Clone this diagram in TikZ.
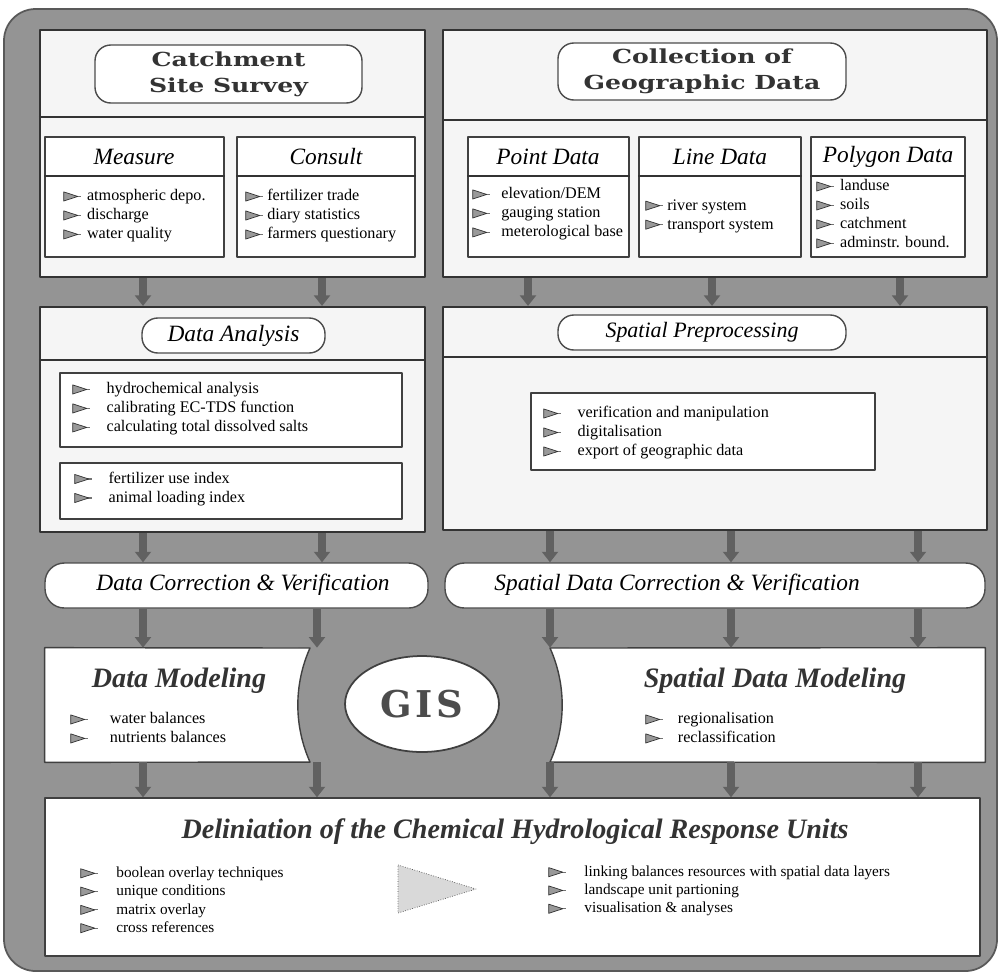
\documentclass[tikz,border=0pt]{standalone}
\usepackage{fontspec}
\usepackage{graphicx}
\setmainfont{Liberation Serif}
\newfontfamily\slabfont{DejaVu Serif}
\usetikzlibrary{fit,arrows.meta,shapes.geometric}

\newcommand{\wide}[1]{\scalebox{1.3}[1]{#1}}
\newcommand{\pointer}{\tikz[baseline=-0.6ex]{\draw[black!55, line width=0.6pt] (6pt,0pt) -- (10pt,0pt);
  \filldraw[fill=black!40, draw=black!80, line width=0.4pt] (0pt,2.6pt) -- (8pt,0pt) -- (0pt,-2.6pt) -- cycle;}}
\newcommand{\pitem}[1]{\pointer\hspace{#1}}

\tikzset{
  panel/.style={draw=black!80, line width=1.2pt, fill=black!4, inner sep=0pt},
  headbox/.style={draw=black!70, line width=0.8pt, fill=white, rounded corners=9pt, inner sep=0pt},
  subbox/.style={draw=black!75, line width=0.8pt, fill=white, inner sep=0pt},
  corrbox/.style={draw=black!70, line width=0.8pt, fill=white, rounded corners=11pt, inner sep=0pt},
  divider/.style={draw=black!80, line width=1.2pt},
  subdivider/.style={draw=black!80, line width=0.9pt},
  headtext/.style={font=\slabfont\bfseries\fontsize{11}{14.7}\selectfont, align=center, text=black!80},
  subtitle/.style={font=\itshape\fontsize{13.3}{15}\selectfont, inner sep=0pt},
  bigtitle/.style={font=\bfseries\itshape\fontsize{16}{19}\selectfont, inner sep=0pt, text=black!80},
  items/.style={font=\fontsize{9.2}{10.8}\selectfont, align=left, anchor=west, inner sep=0pt},
  flow/.style={-{Triangle[width=9pt,length=6pt]}, line width=4.5pt, black!62},
}

\begin{document}
\begin{tikzpicture}[x=0.02cm, y=-0.02cm, line join=round]
  \useasboundingbox (0,0) rectangle (999,974);
  \filldraw[fill=black!42, draw=black!65, line width=1pt, rounded corners=18pt] (4,9) rectangle (997,971);

  % catchment site survey
  \node[panel, fit={(40,30) (425,277)}] (survey) {};
  \draw[divider] (survey.west |- 0,117) -- (survey.east |- 0,117);
  \node[headbox, fit={(95,45) (362,103)}] (surveyhead) {};
  \node[headtext] (surveytitle) at (surveyhead.center) {\wide{Catchment}\\\wide{Site Survey}};

  \node[subbox, fit={(45,137) (224,257)}] (measure) {};
  \draw[subdivider] (measure.west |- 0,176) -- (measure.east |- 0,176);
  \node[subtitle] (measuretitle) at (134,157) {Measure};
  \node[items] (measurelist) at (63,216) {\pitem{3pt}atmospheric depo.\\\pitem{3pt}discharge\\\pitem{3pt}water quality};

  \node[subbox, fit={(237,137) (415,257)}] (consult) {};
  \draw[subdivider] (consult.west |- 0,176) -- (consult.east |- 0,176);
  \node[subtitle] (consulttitle) at (326,157) {Consult};
  \node[items] (consultlist) at (245,216) {\pitem{2pt}fertilizer trade\\\pitem{2pt}diary statistics\\\pitem{2pt}farmers questionary};

  % collection of geographic data
  \node[panel, fit={(443,30) (987,277)}] (geo) {};
  \draw[divider] (geo.west |- 0,120) -- (geo.east |- 0,120);
  \node[headbox, fit={(558,43) (846,100)}] (geohead) {};
  \node[headtext] (geotitle) at (geohead.center) {\wide{Collection of}\\\wide{Geographic Data}};

  \node[subbox, fit={(468,137) (629,257)}] (point) {};
  \draw[subdivider] (point.west |- 0,176) -- (point.east |- 0,176);
  \node[subtitle] (pointtitle) at (548,157) {Point Data};
  \node[items] (pointlist) at (472,214) {\pitem{6pt}elevation/DEM\\\pitem{6pt}gauging station\\\pitem{6pt}meterological base};

  \node[subbox, fit={(639,137) (801,257)}] (line) {};
  \draw[subdivider] (line.west |- 0,176) -- (line.east |- 0,176);
  \node[subtitle] (linetitle) at (720,157) {Line Data};
  \node[items] (linelist) at (645,216) {\pitem{2pt}river system\\\pitem{2pt}transport system};

  \node[subbox, fit={(811,137) (965,257)}] (polygon) {};
  \draw[subdivider] (polygon.west |- 0,176) -- (polygon.east |- 0,176);
  \node[subtitle] (polygontitle) at (888,157) {Polygon Data};
  \node[items] (polygonlist) at (816,214) {\pitem{3pt}landuse\\\pitem{3pt}soils\\\pitem{3pt}catchment\\\pitem{3pt}adminstr. bound.};

  % data analysis
  \node[panel, fit={(40,307) (425,532)}] (analysis) {};
  \draw[divider] (analysis.west |- 0,360) -- (analysis.east |- 0,360);
  \node[headbox, fit={(142,318) (325,353)}] (analysishead) {};
  \node[subtitle] (analysistitle) at (analysishead.center) {Data Analysis};
  \node[subbox, fit={(60,373) (402,447)}] (chem) {};
  \node[items] (chemlist) at (72,409) {\pitem{9pt}hydrochemical analysis\\\pitem{9pt}calibrating EC-TDS function\\\pitem{9pt}calculating total dissolved salts};
  \node[subbox, fit={(60,463) (402,519)}] (index) {};
  \node[items] (indexlist) at (74,489) {\pitem{9pt}fertilizer use index\\\pitem{9pt}animal loading index};

  % spatial preprocessing
  \node[panel, fit={(443,307) (987,530)}] (prep) {};
  \draw[divider] (prep.west |- 0,357) -- (prep.east |- 0,357);
  \node[headbox, fit={(558,315) (846,350)}] (prephead) {};
  \node[subtitle, font=\itshape\fontsize{12.5}{15}\selectfont] (preptitle) at (prephead.center) {Spatial Preprocessing};
  \node[subbox, fit={(531,393) (875,470)}] (manip) {};
  \node[items] (maniplist) at (543,433) {\pitem{9pt}verification and manipulation\\\pitem{9pt}digitalisation\\\pitem{9pt}export of geographic data};

  % correction
  \node[corrbox, fit={(45,563) (428,608)}] (dcv) {};
  \node[subtitle] (dcvtitle) at (243,585) {Data Correction \& Verification};
  \node[corrbox, fit={(445,563) (985,608)}] (sdcv) {};
  \node[subtitle] (sdcvtitle) at (677,585) {Spatial Data Correction \& Verification};

  % modeling and GIS
  \node[inner sep=0pt, fit={(45,648) (310,762)}] (dmod) {};
  \draw[subbox] (dmod.north west) -- (310,648) arc[start angle=155.2, end angle=204.8, x radius=2.64cm, y radius=2.72cm] -- (dmod.south west) -- cycle;
  \node[bigtitle] (dmodtitle) at (179,681) {Data Modeling};
  \node[items] (dmodlist) at (70,728) {\pitem{12pt}water balances\\\pitem{12pt}nutrients balances};

  \node[inner sep=0pt, fit={(550,648) (985,762)}] (sdmod) {};
  \draw[subbox] (sdmod.north east) -- (550,648) arc[start angle=24.8, end angle=-24.8, x radius=2.64cm, y radius=2.72cm] -- (sdmod.south east) -- cycle;
  \node[bigtitle] (sdmodtitle) at (775,681) {Spatial Data Modeling};
  \node[items] (sdmodlist) at (645,728) {\pitem{8pt}regionalisation\\\pitem{8pt}reclassification};

  \node[ellipse, draw=black!75, line width=1pt, fill=white, minimum width=3.08cm, minimum height=1.92cm,
        font=\slabfont\bfseries\fontsize{21}{24}\selectfont, text=black!70] (gis) at (422,704) {G\hspace{2pt}I\hspace{2pt}S};

  % response units
  \node[subbox, fit={(45,798) (980,956)}] (chru) {};
  \node[bigtitle] (chrutitle) at (515,832) {Deliniation of the Chemical Hydrological Response Units};
  \node[items, font=\fontsize{8.7}{10.4}\selectfont] (chruleft) at (80,900) {\pitem{10pt}boolean overlay techniques\\\pitem{10pt}unique conditions\\\pitem{10pt}matrix overlay\\\pitem{10pt}cross references};
  \draw[black!70, densely dotted, fill=black!15] (398,865) -- (476,889) -- (398,913) -- cycle;
  \node[items, font=\fontsize{8.7}{10.4}\selectfont] (chruright) at (548,891) {\pitem{10pt}linking balances resources with spatial data layers\\\pitem{10pt}landscape unit partioning\\\pitem{10pt}visualisation \& analyses};

  % flow arrows
  \foreach \x in {143,322} \draw[flow] (survey.south -| \x,0) -- (analysis.north -| \x,0);
  \foreach \x in {528,712,900} \draw[flow] (geo.south -| \x,0) -- (prep.north -| \x,0);
  \foreach \x in {143,322} \draw[flow] (analysis.south -| \x,0) -- (dcv.north -| \x,0);
  \foreach \x in {550,731,918} \draw[flow] (prep.south -| \x,0) -- (sdcv.north -| \x,0);
  \foreach \x in {143,317} \draw[flow] (dcv.south -| \x,0) -- (dmod.north -| \x,0);
  \foreach \x in {550,731,918} \draw[flow] (sdcv.south -| \x,0) -- (sdmod.north -| \x,0);
  \foreach \x in {143,317} \draw[flow] (dmod.south -| \x,0) -- (chru.north -| \x,0);
  \foreach \x in {550,731,918} \draw[flow] (sdmod.south -| \x,0) -- (chru.north -| \x,0);
\end{tikzpicture}
\end{document}
